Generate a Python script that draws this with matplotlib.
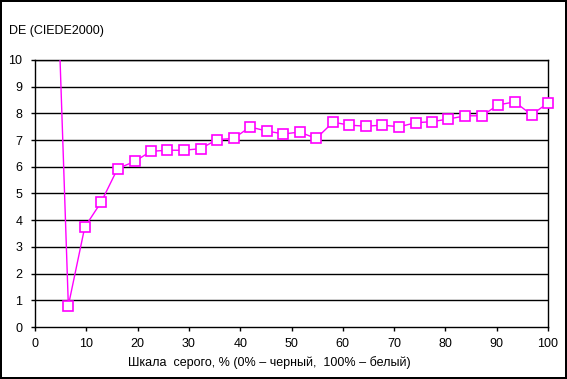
import numpy as np
import matplotlib.pyplot as plt

# ---------------------------- data ----------------------------
gray_pct = [3.2, 6.5, 9.7, 12.9, 16.1, 19.4, 22.6, 25.8, 29.0, 32.3,
            35.5, 38.7, 41.9, 45.2, 48.4, 51.6, 54.8, 58.1, 61.3, 64.5,
            67.7, 71.0, 74.2, 77.4, 80.6, 83.9, 87.1, 90.3, 93.5, 96.8, 100.0]
de2000 = [19.6, 0.8, 3.74, 4.68, 5.93, 6.2, 6.58, 6.62, 6.62, 6.68,
          7.02, 7.06, 7.49, 7.34, 7.23, 7.3, 7.06, 7.67, 7.56, 7.52,
          7.56, 7.5, 7.65, 7.69, 7.79, 7.91, 7.91, 8.32, 8.43, 7.95, 8.39]

x_ticks = [0, 10, 20, 30, 40, 50, 60, 70, 80, 90, 100]
y_ticks = list(range(0, 11))

plt.rcParams['font.family'] = ['Liberation Sans', 'DejaVu Sans']
plt.rcParams['font.size'] = 9

W, H = 567, 379
fig = plt.figure(figsize=(W / 100, H / 100), dpi=100)
fig.patch.set_facecolor('white')
fig.patch.set_edgecolor('black')
fig.patch.set_linewidth(1.5)

# plot area in pixels: left 35, right 548, top 60, bottom 327
ax = fig.add_axes([35 / W, 1 - 327 / H, (548 - 35) / W, (327 - 60) / H])

for y in y_ticks[1:]:
    ax.axhline(y, color='black', linewidth=1.0, zorder=1)

# line is clipped to the plot area, markers inside the range are not
ax.plot(gray_pct, de2000, color='#ff00ff', linewidth=1.0, zorder=3)
xs = np.array(gray_pct)
ys = np.array(de2000)
inside = ys <= 10
ax.plot(xs[inside], ys[inside], linestyle='none',
        marker='s', markersize=6.5, markerfacecolor='white',
        markeredgecolor='#ff00ff', markeredgewidth=1.2, zorder=4, clip_on=False)

ax.set_xlim(0, 100)
ax.set_ylim(0, 10)
ax.set_xticks(x_ticks)
ax.set_yticks(y_ticks)
ax.tick_params(axis='both', direction='out', length=3, width=1, color='black',
               labelsize=9)
ax.tick_params(axis='x', pad=5)
ax.tick_params(axis='y', pad=6)
for s in ax.spines.values():
    s.set_color('black')
    s.set_linewidth(1.0)

fig.text(269 / W, 1 - 363 / H, 'Шкала  серого, % (0% – черный,  100% – белый)',
         fontsize=9, ha='center', va='center')
fig.text(9 / W, 1 - 31 / H, 'DE (CIEDE2000)', fontsize=9, ha='left', va='center')

fig.savefig('out.png', dpi=100, facecolor=fig.get_facecolor(), edgecolor=fig.get_edgecolor())
